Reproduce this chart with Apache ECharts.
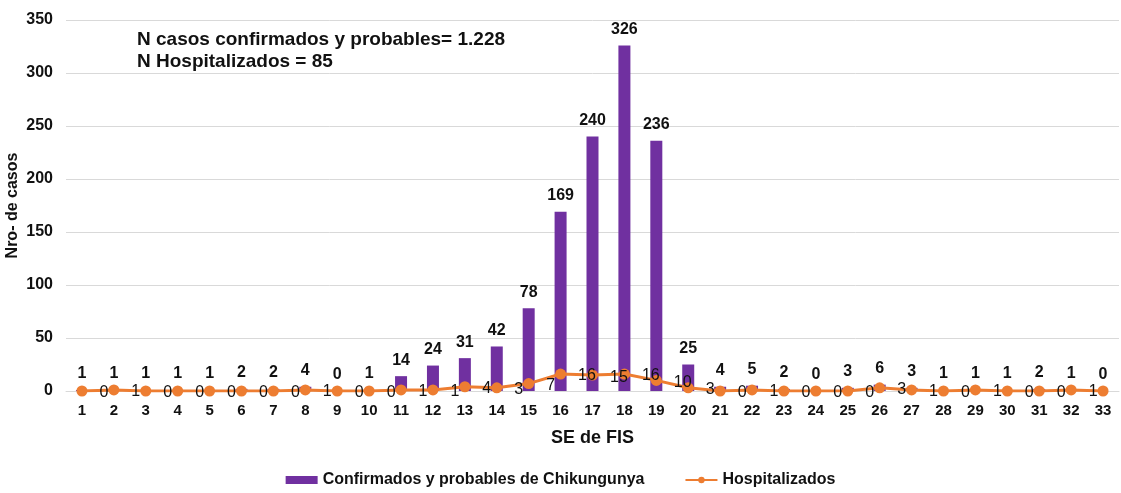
<!DOCTYPE html>
<html>
<head>
<meta charset="utf-8">
<script src="https://cdn.jsdelivr.net/npm/echarts@6/dist/echarts.min.js"></script>
<style>
	html, body { margin: 0; padding: 0; background: #fff; }
	#chart { width: 1121px; height: 493px; }
</style>
</head>
<body>
<div id="chart"></div>
<script>
// semanas epidemiologicas
var semanas = ['1','2','3','4','5','6','7','8','9','10','11','12','13','14','15','16','17','18','19','20','21','22','23','24','25','26','27','28','29','30','31','32','33'];
// confirmados y probables de Chikungunya
var confirmados = [1,1,1,1,1,2,2,4,0,1,14,24,31,42,78,169,240,326,236,25,4,5,2,0,3,6,3,1,1,1,2,1,0];
// hospitalizados
var hospitalizados = [0,1,0,0,0,0,0,1,0,0,1,1,4,3,7,16,15,16,10,3,0,1,0,0,0,3,1,0,1,0,0,1,0];
var yTicks = { min: 0, max: 350, interval: 50 };
var notas = ['N casos confirmados y probables= 1.228', 'N Hospitalizados = 85'];

var fuente = '"Liberation Sans", Arial, sans-serif';

// la ultima etiqueta de hospitalizados no se ve en el original
var hospData = hospitalizados.map(function (v, i) {
	if (i == hospitalizados.length - 1) return { value: v, label: { show: false } };
	return v;
});

var chart = echarts.init(document.getElementById('chart'));
chart.setOption({
	animation: false,
	textStyle: { fontFamily: fuente },
	grid: { left: 66, right: 2, top: 20, bottom: 102, outerBoundsMode: 'none' },
	legend: {
		bottom: 0,
		left: 'center',
		itemGap: 40,
		itemWidth: 32,
		itemHeight: 8,
		textStyle: { fontSize: 16, fontWeight: 'bold', color: '#111' },
		data: [
			{ name: 'Confirmados y probables de Chikungunya', icon: 'rect' },
			{ name: 'Hospitalizados' }
		]
	},
	graphic: [{
		type: 'text',
		left: 137,
		top: 29,
		style: {
			text: notas.join('\n'),
			font: 'bold 19px ' + fuente,
			lineHeight: 22,
			fill: '#111'
		}
	}],
	xAxis: {
		type: 'category',
		data: semanas,
		name: 'SE de FIS',
		nameLocation: 'middle',
		nameGap: 38,
		nameMoveOverlap: false,
		nameTextStyle: { fontSize: 18, fontWeight: 'bold', color: '#111' },
		axisTick: { show: false },
		axisLine: { lineStyle: { color: '#d9d9d9' } },
		axisLabel: { fontSize: 15, fontWeight: 'bold', color: '#111', margin: 12, interval: 0 }
	},
	yAxis: {
		type: 'value',
		min: yTicks.min,
		max: yTicks.max,
		interval: yTicks.interval,
		name: 'Nro- de casos',
		nameLocation: 'middle',
		nameGap: 45,
		nameMoveOverlap: false,
		nameTextStyle: { fontSize: 16, fontWeight: 'bold', color: '#111' },
		axisLabel: { fontSize: 16, fontWeight: 'bold', color: '#111', margin: 13 },
		splitLine: { lineStyle: { color: '#d9d9d9' } }
	},
	series: [{
		name: 'Confirmados y probables de Chikungunya',
		type: 'bar',
		data: confirmados,
		barWidth: 12,
		itemStyle: { color: '#7030A0' },
		label: {
			show: true,
			position: 'top',
			distance: 8,
			fontSize: 16,
			fontWeight: 'bold',
			color: '#111'
		}
	}, {
		name: 'Hospitalizados',
		type: 'line',
		data: hospData,
		symbol: 'circle',
		symbolSize: 11,
		itemStyle: { color: '#ED7D31' },
		lineStyle: { color: '#ED7D31', width: 3 },
		label: {
			show: true,
			position: 'right',
			distance: 12,
			offset: [0, 2],
			fontSize: 16,
			color: '#111'
		},
		z: 3
	}]
});
</script>
</body>
</html>
